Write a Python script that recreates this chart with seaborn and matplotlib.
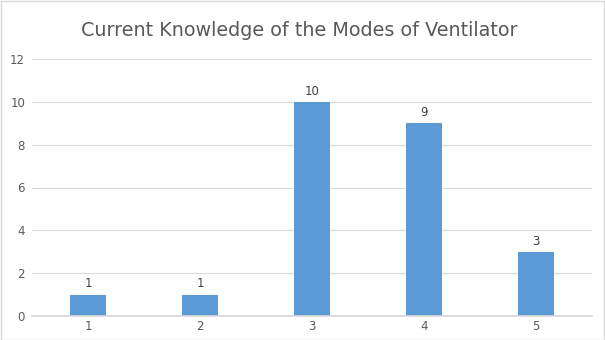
import matplotlib
matplotlib.use("Agg")
import matplotlib.pyplot as plt
import seaborn as sns
import pandas as pd

categories = ["1", "2", "3", "4", "5"]
values = [1, 1, 10, 9, 3]

sns.set_theme(style="white")
plt.rcParams['font.family'] = ['DejaVu Sans']

df = pd.DataFrame({"cat": categories, "val": values})

fig = plt.figure(figsize=(6.05, 3.4), dpi=100)
fig.patch.set_facecolor("white")
ax = fig.add_axes([32/605, 24/340, 560/605, 257/340])
sns.barplot(data=df, x="cat", y="val", color="#5B9BD5", width=0.32, ax=ax, saturation=1,
            linewidth=0, edgecolor="none")
ax.set_xlim(-0.5, 4.5)
ax.set_ylim(0, 12)
ax.set_yticks(range(0, 13, 2))
ax.yaxis.grid(True, color="#D9D9D9", linewidth=0.8)
ax.set_axisbelow(True)
for s in ["top", "right", "left"]:
    ax.spines[s].set_visible(False)
ax.spines["bottom"].set_color("#D9D9D9")
ax.set_xlabel("")
ax.set_ylabel("")
ax.tick_params(axis="both", colors="#595959", labelsize=8.5, length=0)
ax.tick_params(axis="x", pad=3)
ax.tick_params(axis="y", pad=5)
for c in ax.containers:
    ax.bar_label(c, labels=[str(v) for v in values], padding=3, color="#404040", fontsize=8.5)
fig.text(0.495, 0.91, "Current Knowledge of the Modes of Ventilator", ha="center", va="center",
         fontsize=13.8, color="#595959")
border = plt.Rectangle((0.001, 0.001), 0.997, 0.996, transform=fig.transFigure, fill=False,
                       edgecolor="#D9D9D9", linewidth=1)
fig.patches.append(border)
fig.savefig("out.png", dpi=100)
